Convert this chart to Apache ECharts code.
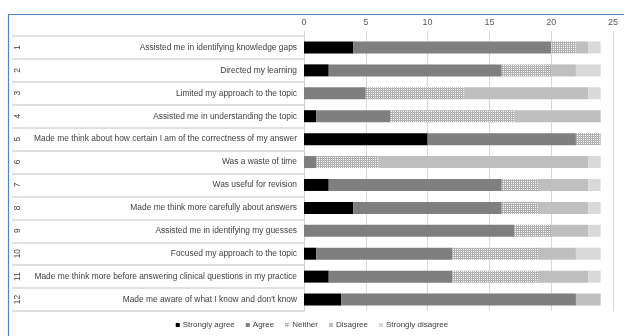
<!DOCTYPE html>
<html>
<head>
<meta charset="utf-8">
<script src="https://cdn.jsdelivr.net/npm/echarts@6/dist/echarts.min.js"></script>
<style>
html,body{margin:0;padding:0;background:#fff;}
#c{width:624px;height:336px;}
</style>
</head>
<body>
<div id="c"></div>
<script>
const categories = [
  'Assisted me in identifying knowledge gaps',
  'Directed my learning',
  'Limited my approach to the topic',
  'Assisted me in understanding the topic',
  'Made me think about how certain I am of the correctness of my answer',
  'Was a waste of time',
  'Was useful for revision',
  'Made me think more carefully about answers',
  'Assisted me in identifying my guesses',
  'Focused my approach to the topic',
  'Made me think more before answering clinical questions in my practice',
  "Made me aware of what I know and don't know"
];
const rowNumbers = ['1','2','3','4','5','6','7','8','9','10','11','12'];
const seriesNames = ['Strongly agree','Agree','Neither','Disagree','Strongly disagree'];
const stronglyAgree    = [4, 2, 0, 1, 10, 0, 2, 4, 0, 1, 2, 3];
const agree            = [16,14, 5, 6, 12, 1,14,12,17,11,10,19];
const neither          = [2, 4, 8,10, 2, 5, 3, 3, 3, 7, 7, 0];
const disagree         = [1, 2,10, 7, 0,17, 4, 4, 3, 3, 4, 2];
const stronglyDisagree = [1, 2, 1, 0, 0, 1, 1, 1, 1, 2, 1, 0];
const xTicks = [0, 5, 10, 15, 20, 25];

// dotted grid pattern for "Neither"
const pc = document.createElement('canvas');
pc.width = 2; pc.height = 2;
const px = pc.getContext('2d');
px.fillStyle = '#b0b0b0'; px.fillRect(0,0,2,2);
px.fillStyle = '#ffffff'; px.fillRect(1,1,1,1);
const neitherPattern = { image: pc, repeat: 'repeat' };

const colors = ['#000000', '#7f7f7f', neitherPattern, '#bfbfbf', '#d9d9d9'];
const values = [stronglyAgree, agree, neither, disagree, stronglyDisagree];

const FONT = '"Liberation Sans", Arial, sans-serif';
const chart = echarts.init(document.getElementById('c'), null, {renderer: 'canvas'});
chart.setOption({
  animation: false,
  backgroundColor: '#ffffff',
  grid: { left: 304, right: 11, top: 36, bottom: 25, containLabel: false },
  legend: {
    bottom: 2,
    left: 'center',
    itemWidth: 4,
    itemHeight: 4,
    itemGap: 11,
    icon: 'rect',
    textStyle: { fontFamily: FONT, fontSize: 8, color: '#404040', padding: [0,0,0,-2] },
    data: seriesNames
  },
  xAxis: {
    type: 'value',
    position: 'top',
    min: xTicks[0],
    max: xTicks[xTicks.length - 1],
    interval: 5,
    axisLine: { show: false },
    axisTick: { show: true, length: 5, lineStyle: { color: '#d9d9d9' } },
    splitLine: { show: true, lineStyle: { color: '#d9d9d9', width: 1 } },
    axisLabel: { margin: 9, fontFamily: FONT, fontSize: 9, color: '#595959' }
  },
  yAxis: [
    {
      type: 'category',
      inverse: true,
      data: categories,
      axisLine: { show: true, lineStyle: { color: '#d0d0d0', width: 1 } },
      axisTick: { show: true, interval: 0, length: 292, lineStyle: { color: '#d6d6d6', width: 1.5 } },
      axisLabel: { interval: 0, margin: 7, fontFamily: FONT, fontSize: 8.4, color: '#404040' }
    },
    {
      type: 'category',
      inverse: true,
      position: 'left',
      offset: 280,
      data: rowNumbers,
      axisLine: { show: false },
      axisTick: { show: false },
      axisLabel: { interval: 0, rotate: 90, margin: 2, fontFamily: FONT, fontSize: 8.4, color: '#404040' }
    }
  ],
  series: seriesNames.map((name, i) => ({
    name: name,
    type: 'bar',
    stack: 'total',
    yAxisIndex: 0,
    barWidth: 12,
    itemStyle: { color: colors[i] },
    data: values[i]
  })),
  graphic: [
    {
      type: 'polyline',
      shape: { points: [[8.5, 336], [8.5, 14.5], [624, 14.5]] },
      style: { stroke: '#5183c0', lineWidth: 1.2, fill: null },
      silent: true
    }
  ]
});
</script>
</body>
</html>
